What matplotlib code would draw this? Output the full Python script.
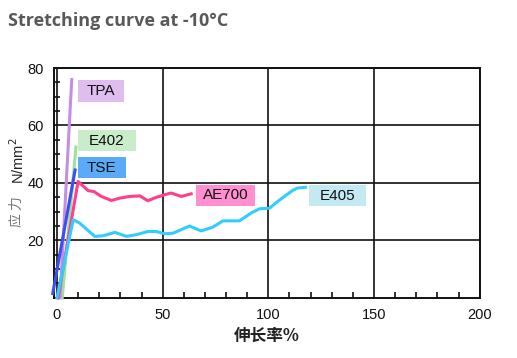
import matplotlib
matplotlib.use("Agg")
import matplotlib.pyplot as plt
from matplotlib.patches import Rectangle
from matplotlib.ticker import MultipleLocator

plt.rcParams['font.family'] = ['Liberation Sans', 'Noto Sans CJK SC', 'DejaVu Sans']

# curves (elongation %, stress N/mm2)
tpa_x = [1.5, 7]
tpa_y = [0, 76]
e402_x = [2.5, 9]
e402_y = [0, 52.5]
tse_x = [-2, 8.6]
tse_y = [1.5, 44.5]
ae700_x = [0.5, 10, 14.8, 17.5, 21, 25.8, 29.7, 34.4, 39.2, 43, 47, 51, 54, 58.8, 63.5]
ae700_y = [0, 40.5, 37.3, 37, 35.3, 33.9, 34.7, 35.3, 35.5, 33.8, 35, 35.9, 36.5, 35.3, 36.2]
e405_x = [0, 7.7, 10.8, 17.9, 21.8, 27.4, 32.9, 37.6, 43, 47, 51, 54.9, 62.7, 68.2, 73.7,
          78.5, 86.3, 91.8, 95.8, 100.5, 105.2, 111.5, 113.7, 117.5]
e405_y = [0, 27.2, 26, 21.4, 21.6, 22.8, 21.4, 22, 23.1, 23.1, 22.3, 22.5, 25, 23.3, 24.6,
          26.8, 26.8, 29.5, 31, 31.2, 34, 37.4, 38.2, 38.5]

# label name, center x, center y, width, box colour
labels = ['TPA', 'E402', 'TSE', 'AE700', 'E405']
label_x = [20.8, 23.6, 21.2, 79.7, 132.5]
label_y = [72, 54.7, 45.3, 35.7, 35.5]
label_w = [21.7, 27.4, 22.6, 27.8, 26.9]
label_c = ['#dfbdee', '#c9eccb', '#5aaaf7', '#ff8fd0', '#c3e9f3']

fig = plt.figure(figsize=(5.17, 3.58), dpi=100)
ax = fig.add_axes([0.104, 0.168, 0.824, 0.642])

ax.plot(e402_x, e402_y, color='#9be39a', lw=2.2, clip_on=False, zorder=3)
ax.plot(tpa_x, tpa_y, color='#c48ee6', lw=2.2, clip_on=False, zorder=3)
ax.plot(ae700_x, ae700_y, color='#fd3f8c', lw=2.2, clip_on=False, zorder=3)
ax.plot(e405_x, e405_y, color='#33ccff', lw=2.2, clip_on=False, zorder=3)
ax.plot(tse_x, tse_y, color='#3d4df2', lw=2.2, clip_on=False, zorder=4)

for name, cx, cy, w, c in zip(labels, label_x, label_y, label_w, label_c):
    ax.add_patch(Rectangle((cx - w / 2, cy - 3.7), w, 7.4, facecolor=c, edgecolor='none', zorder=2))
    ax.text(cx, cy, name, ha='center', va='center', fontsize=11, color='#111111', zorder=5)

ax.set_xlim(-1.5, 200)
ax.set_ylim(0, 80)
ax.set_xticks([0, 50, 100, 150, 200])
ax.set_yticks([20, 40, 60, 80])
ax.xaxis.set_minor_locator(MultipleLocator(10))
ax.yaxis.set_minor_locator(MultipleLocator(5))
ax.tick_params(which='both', direction='in', length=4, width=1.2, top=False, right=False,
               labelsize=10.5, colors='#111111')
ax.tick_params(which='major', length=0, pad=7)
ax.grid(True, which='major', color='#111111', lw=1.2)
for s in ax.spines.values():
    s.set_linewidth(1.4)
    s.set_color('#111111')

ax.set_xlabel('伸长率%', fontsize=12, fontweight='bold', color='#222222',
              family=['Noto Sans CJK SC', 'DejaVu Sans'], labelpad=4)
fig.text(0.033, 0.408, '应 力', rotation=90, ha='center', va='center', fontsize=10,
         color='#777777', family=['Noto Sans CJK SC', 'DejaVu Sans'])
fig.text(0.035, 0.55, 'N/mm$^2$', rotation=90, ha='center', va='center', fontsize=10.5,
         color='#222222')

fig.text(0.016, 0.94, 'Stretching curve at -10°C', fontsize=13, fontweight='bold',
         color='#595959', family=['Open Sans', 'DejaVu Sans'], ha='left', va='center')

fig.savefig('out.png', dpi=100)
